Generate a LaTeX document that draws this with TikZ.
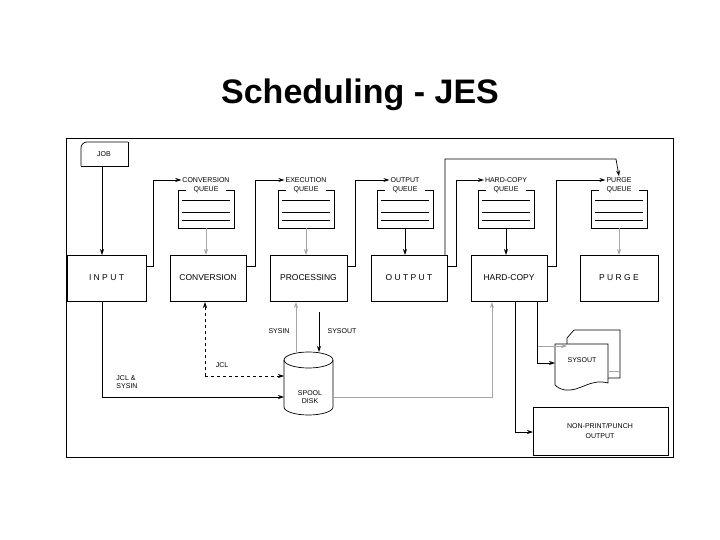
\documentclass[tikz,border=0pt]{standalone}
\usepackage{fontspec}
\setmainfont{Liberation Sans}
\usetikzlibrary{shapes.geometric,arrows.meta}
\begin{document}
\begin{tikzpicture}[x=1pt,y=-1pt,
  lab/.style={font=\fontsize{7}{8}\selectfont,inner sep=1pt},
  big/.style={font=\fontsize{8.5}{10}\selectfont},
  arr/.style={-{Stealth[length=6pt,width=4pt]},line width=0.7pt},
  garr/.style={arr,draw=gray!70},
]
\useasboundingbox (0,0) rectangle (720,540);
\node[font=\fontsize{34}{38}\bfseries] (title) at (360,95) {Scheduling - JES};
\draw[line width=0.9pt] (66,138) rectangle (673,457);
% JOB
\draw[line width=0.7pt,rounded corners=6pt] (81,166) -- (81,142) -- (128,142);
\draw[line width=0.7pt] (128,142) -- (128,166) -- (81,166);
\node[lab] (job) at (104,154) {JOB};
\coordinate (jobb) at (102,166);
% main boxes
\newcommand\mainbx[4]{\draw[line width=0.7pt] (#1,255) rectangle (#2,301);
  \node[big] (#3) at ({(#1+#2)/2},278) {#4};}
\mainbx{67}{146}{input}{I N P U T}
\mainbx{170}{246}{conv}{CONVERSION}
\mainbx{270}{347}{proc}{PROCESSING}
\mainbx{371}{447}{outp}{O U T P U T}
\mainbx{471}{547}{hc}{HARD-COPY}
\mainbx{580}{658}{purge}{P U R G E}
% queues
\newcommand\queuebx[3]{%
  \draw[line width=0.7pt] (#1-20,190) -- (#1-28,190) -- (#1-28,228) -- (#1+28,228) -- (#1+28,190) -- (#1+20,190);
  \foreach \yy in {200,212,220} \draw[line width=0.6pt] (#1-24,\yy) -- (#1+24,\yy);
  \node[lab] (#2a) at (#1,180) {#3};
  \node[lab] (#2b) at (#1,190) {QUEUE};
  \coordinate (#2) at (#1,228);}
\queuebx{206}{qconv}{CONVERSION}
\queuebx{306}{qexec}{EXECUTION}
\queuebx{405}{qout}{OUTPUT}
\queuebx{506}{qhc}{HARD-COPY}
\queuebx{619}{qpur}{PURGE}
% job -> input
\draw[arr] (jobb) -- (102,255);
% queue -> box
\draw[garr] (qconv) -- (206,255);
\draw[garr] (qexec) -- (306,255);
\draw[arr] (qout) -- (405,255);
\draw[arr] (qhc) -- (506,255);
\draw[garr] (qpur) -- (619,255);
% box -> next queue
\draw[arr] (146,266) -- (153,266) -- (153,180) -- (qconva.west);
\draw[arr] (246,266) -- (255,266) -- (255,180) -- (qexeca.west);
\draw[arr] (347,266) -- (355,266) -- (355,180) -- (qouta.west);
\draw[arr] (447,266) -- (456,266) -- (456,180) -- (qhca.west);
\draw[arr] (547,266) -- (556,266) -- (556,180) -- (qpura.west);
\draw[arr] (445,255) -- (445,159) -- (616,159) -- (qpura.north);
% spool disk (drawn directly)
\coordinate (diskw) at (284,397);
\coordinate (diske) at (333,397);
\draw[line width=0.7pt,fill=white] (284,360) -- (284,407) arc[start angle=180,end angle=360,x radius=24.5,y radius=-8] -- (333,360);
\draw[line width=0.7pt] (308.5,360) ellipse[x radius=24.5,y radius=8];
\node[lab,align=center] (dlab) at (310,397) {SPOOL\\DISK};
\draw[arr] (102,301) -- (102,397) -- (diskw);
\node[lab,align=left] (jclsys) at (127,382) {JCL \&\\SYSIN};
\draw[arr,dashed] (205,376) -- (205,302);
\draw[dashed,line width=0.7pt,-{Stealth[length=6pt,width=4pt]}] (205,376) -- (284,376);
\node[lab] (jcl) at (222,365) {JCL};
\draw[garr] (296,352) -- (296,302);
\node[lab] (sysin) at (279,331) {SYSIN};
\draw[arr] (319,312) -- (319,352);
\node[lab] (sysout) at (342,331) {SYSOUT};
\draw[garr] (diske) -- (492,397) -- (492,302);
% sysout documents
\draw[line width=0.7pt,fill=white] (574,330) -- (620,330) -- (620,378) -- (567,378) -- (567,338) -- cycle;
\draw[line width=0.7pt,fill=white] (555,344) -- (608,344) -- (608,383) .. controls (590,378) and (580,392) .. (565,390) .. controls (560,389) and (557,387) .. (555,385) -- cycle;
\draw[draw=gray!70,line width=0.7pt] (608,371) -- (620,371);
\node[lab] (sysoutd) at (582,360) {SYSOUT};
\draw[garr] (537,346) -- (567,346);
\draw[arr] (537,301) -- (537,363) -- (555,363);
% non-print
\draw[line width=0.7pt] (533,407) rectangle (668,455);
\node[lab,align=center] (np) at (600,431) {NON-PRINT/PUNCH\\[2pt]OUTPUT};
\draw[arr] (515,301) -- (515,432) -- (533,432);
\end{tikzpicture}
\end{document}
